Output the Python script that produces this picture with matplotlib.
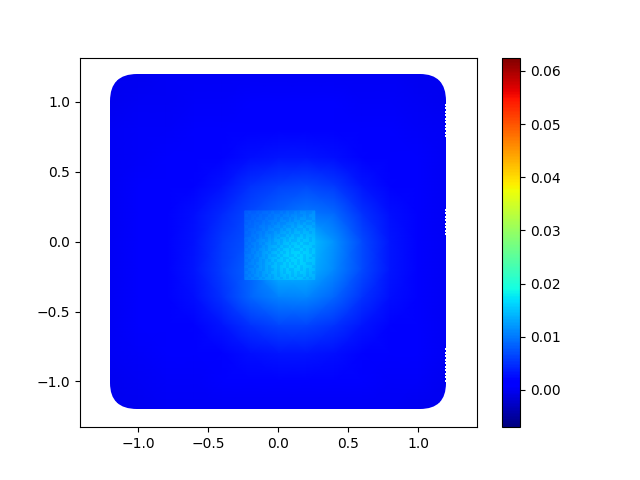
"""Scalar field on a rounded square domain, with a finer-resolved inner square."""

import matplotlib
matplotlib.use("Agg")
import matplotlib.pyplot as plt
from matplotlib.colors import ListedColormap
from matplotlib.patches import FancyBboxPatch
import numpy as np

# outer field, values in units of 1e-3, rows from y=1.2 down to y=-1.2
grid_x = [-1.2, -1.0, -0.8, -0.6, -0.4, -0.2, 0.0, 0.2, 0.4, 0.6, 0.8, 1.0, 1.2]
grid_y = [1.2, 1.0, 0.8, 0.6, 0.4, 0.2, 0.0, -0.2, -0.4, -0.6, -0.8, -1.0, -1.2]
field = [
    [0.0, 0.0, 0.1, 0.1, 0.1, 0.2, 0.2, 0.2, 0.2, 0.1, 0.1, 0.0, 0.0],
    [0.0, 0.2, 0.3, 0.4, 0.6, 0.7, 0.8, 0.8, 0.7, 0.6, 0.4, 0.3, 0.0],
    [0.1, 0.4, 0.6, 0.8, 1.0, 1.3, 1.5, 1.5, 1.3, 1.0, 0.8, 0.6, 0.1],
    [0.1, 0.5, 0.8, 1.1, 1.8, 2.6, 3.2, 3.2, 2.6, 1.8, 1.1, 0.8, 0.1],
    [0.2, 0.7, 1.0, 1.8, 3.0, 5.0, 6.2, 6.8, 5.6, 3.2, 1.8, 1.0, 0.2],
    [0.2, 0.8, 1.3, 2.6, 4.6, 6.8, 8.5, 10.0, 8.8, 5.2, 2.6, 1.3, 0.2],
    [0.2, 0.9, 1.5, 3.0, 5.6, 7.5, 12.0, 15.0, 11.5, 6.6, 3.2, 1.5, 0.2],
    [0.2, 0.9, 1.5, 3.2, 6.0, 8.5, 14.0, 14.0, 11.0, 6.6, 3.2, 1.5, 0.2],
    [0.2, 0.8, 1.3, 2.6, 5.2, 8.6, 10.5, 10.8, 8.6, 5.2, 2.6, 1.3, 0.2],
    [0.2, 0.7, 1.0, 1.8, 3.2, 5.2, 6.4, 6.4, 5.2, 3.2, 1.8, 1.0, 0.2],
    [0.1, 0.5, 0.8, 1.1, 1.8, 2.6, 3.2, 3.2, 2.6, 1.8, 1.1, 0.8, 0.1],
    [0.0, 0.2, 0.4, 0.6, 0.8, 1.0, 1.2, 1.2, 1.0, 0.8, 0.6, 0.4, 0.0],
    [0.0, 0.0, 0.1, 0.1, 0.2, 0.2, 0.2, 0.2, 0.2, 0.1, 0.1, 0.0, 0.0],
]

# inner square, same units, rows from top to bottom
inner_x = [-0.24, -0.14, -0.04, 0.06, 0.16, 0.26]
inner_y = [0.22, 0.12, 0.02, -0.08, -0.18, -0.27]
inner = [
    [8.0, 8.6, 9.3, 10.0, 10.8, 11.2],
    [8.6, 9.8, 11.0, 12.2, 13.2, 13.0],
    [9.2, 10.8, 12.8, 14.4, 15.2, 14.6],
    [9.6, 11.6, 14.0, 15.8, 16.3, 15.0],
    [10.0, 12.0, 14.2, 15.8, 15.9, 14.6],
    [10.2, 11.8, 13.4, 14.6, 14.6, 13.4],
]

# darker specks inside the inner square, one string per row of cells
speckle = [
    "#.##.#..#.##.#.##.#..##.",
    ".#..#.##.#..#..#..##.#..",
    "##.#..#.##.#.##.#.#..##.",
    "..#.##.#...#..#.#..##..#",
    "#.#..#.##.#.##...#.#.##.",
    ".##.#..#.#..#.##.#..#..#",
    "#...##.#..##.#..#.##.#..",
    ".#.#..#.##.#..#.#..#..#.",
    "##..#.#..#..##.#.##.#...",
    "..#.#.##.#.#..#..#..#.#.",
    "#.##...#.#..#.#.##.#..#.",
    ".#..#.#..##.#..#..#.##..",
    "#.#.##.#...#.##.#..#...#",
    ".#..#..#.##.#..#.##.#.#.",
    "##.#.#..#..#.#.#...#..#.",
    "..#..#.#.##.#..##.#.#..#",
    "#.#.#..#...#.##..#..#.#.",
    ".#.##.#.#.#..#.#..#.#...",
    "#..#..#..#.##.#.#.#..##.",
    ".##.#.#.#..#..#..#.#...#",
    "#..#..#.##.#.#.##..#.#..",
    ".#.#.#..#..#.#..#.#..#.#",
    "#.#..#.#.#.#..#.#.##.#..",
    ".#.##.#..#..#.#..#..#.#.",
]

# small gaps along the right edge of the domain
gap_y = [0.98, 0.955, 0.93, 0.905, 0.88, 0.855, 0.83, 0.805, 0.78, 0.755,
         0.23, 0.205, 0.18, 0.155, 0.13, 0.105, 0.08, 0.055,
         -0.77, -0.795, -0.82, -0.845, -0.87, -0.895, -0.92, -0.945, -0.97, -0.995]

vmin, vmax = -0.007, 0.0625
ticks = [0.0, 0.01, 0.02, 0.03, 0.04, 0.05, 0.06]

fig, ax = plt.subplots()

mesh = ax.pcolormesh(grid_x, grid_y, np.array(field) * 1e-3, cmap="jet",
                     vmin=vmin, vmax=vmax, shading="gouraud", rasterized=True)
clip = FancyBboxPatch((-1.01, -1.01), 2.02, 2.02, boxstyle="round,pad=0.19,rounding_size=0.19",
                      transform=ax.transData, fc="none", ec="none")
ax.add_patch(clip)
mesh.set_clip_path(clip)

ax.pcolormesh(inner_x, inner_y, np.array(inner) * 1e-3, cmap="jet",
              vmin=vmin, vmax=vmax, shading="gouraud", rasterized=True)

# specks: a masked flat mesh over the inner square
speck = np.array([[1.0 if c == "#" else np.nan for c in row] for row in speckle])
ax.pcolormesh(np.linspace(inner_x[0], inner_x[-1], speck.shape[1] + 1),
              np.linspace(inner_y[0], inner_y[-1], speck.shape[0] + 1),
              np.ma.masked_invalid(speck), cmap=ListedColormap(["#0040ff"]),
              alpha=0.1, linewidth=0)

ax.scatter([1.198] * len(gap_y), gap_y, s=0.6, marker="s", c="white", linewidths=0)

ax.set_xlim(-1.417, 1.417)
ax.set_ylim(-1.327, 1.317)

cb = fig.colorbar(mesh, ax=ax)
cb.set_ticks(ticks)

fig.savefig("out.png", dpi=100)
